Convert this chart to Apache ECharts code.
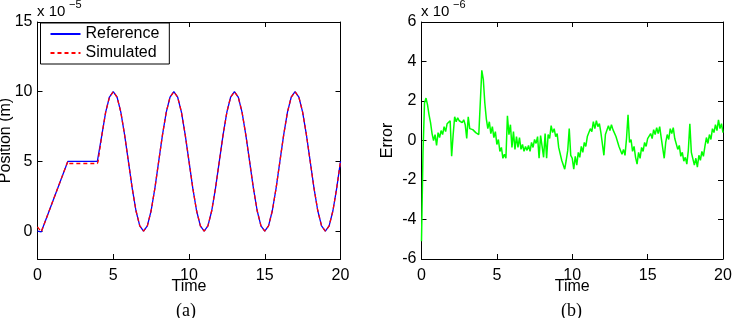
<!DOCTYPE html>
<html>
<head>
    <meta charset="UTF-8">
    <title>Position and error</title>
    <script src="https://cdn.jsdelivr.net/npm/echarts@6/dist/echarts.min.js"></script>
    <style>
        html, body { margin: 0; padding: 0; background: #fff; }
        #chart { width: 738px; height: 318px; }
    </style>
</head>
<body>
<div id="chart"></div>
<script>
    // left panel (a): position, in units of 1e-5 m
    var posTime = [0, 0.25, 2, 2.1, 3.95,
        4, 4.25, 4.5, 4.75, 5, 5.25, 5.5, 5.75, 6, 6.25, 6.5, 6.75, 7, 7.25, 7.5, 7.75,
        8, 8.25, 8.5, 8.75, 9, 9.25, 9.5, 9.75, 10, 10.25, 10.5, 10.75, 11, 11.25, 11.5, 11.75,
        12, 12.25, 12.5, 12.75, 13, 13.25, 13.5, 13.75, 14, 14.25, 14.5, 14.75, 15, 15.25, 15.5, 15.75,
        16, 16.25, 16.5, 16.75, 17, 17.25, 17.5, 17.75, 18, 18.25, 18.5, 18.75, 19, 19.25, 19.5, 19.75,
        20];
    var refPos = [0, -0.05, 5, 5, 5,
        5, 6.91, 8.54, 9.62, 10, 9.62, 8.54, 6.91, 5, 3.09, 1.46, 0.38, 0, 0.38, 1.46, 3.09,
        5, 6.91, 8.54, 9.62, 10, 9.62, 8.54, 6.91, 5, 3.09, 1.46, 0.38, 0, 0.38, 1.46, 3.09,
        5, 6.91, 8.54, 9.62, 10, 9.62, 8.54, 6.91, 5, 3.09, 1.46, 0.38, 0, 0.38, 1.46, 3.09,
        5, 6.91, 8.54, 9.62, 10, 9.62, 8.54, 6.91, 5, 3.09, 1.46, 0.38, 0, 0.38, 1.46, 3.09,
        5];
    var simPos = [0.3, -0.05, 5, 4.85, 4.85,
        5, 6.91, 8.54, 9.62, 10, 9.62, 8.54, 6.91, 5, 3.09, 1.46, 0.38, 0, 0.38, 1.46, 3.09,
        5, 6.91, 8.54, 9.62, 10, 9.62, 8.54, 6.91, 5, 3.09, 1.46, 0.38, 0, 0.38, 1.46, 3.09,
        5, 6.91, 8.54, 9.62, 10, 9.62, 8.54, 6.91, 5, 3.09, 1.46, 0.38, 0, 0.38, 1.46, 3.09,
        5, 6.91, 8.54, 9.62, 10, 9.62, 8.54, 6.91, 5, 3.09, 1.46, 0.38, 0, 0.38, 1.46, 3.09,
        5];

    // right panel (b): error, in units of 1e-6, sampled every 0.1 s (one row per second)
    var errStep = 0.1;
    var errVal = [
        -5.1, -0.6, 1.9, 2.15, 1.8, 1.3, 0.9, 0.35, 0.0, 0.3,
        -0.25, 0.4, 0.15, 0.5, 0.3, 0.7, 0.45, 0.85, 0.75, 1.0,
        -0.8, 0.3, 1.2, 0.95, 1.15, 1.0, 1.1, 0.9, 1.05, 0.8,
        0.1, 1.2, 0.6, 0.5, 0.55, 0.45, 0.4, 0.35, 0.3, 0.25,
        3.55, 3.1, 1.9, 1.1, 0.6, 0.95, 0.35, 0.7, 0.15, 0.45,
        -0.2, 0.05, -0.55, -0.35, -0.9, -0.7, -0.9, 1.25, 0.3, 0.8,
        -0.35, 0.45, -0.45, 0.2, -0.35, 0.15, -0.45, -0.2, -0.55, -0.3,
        -0.5, -0.25, -0.55, -0.1, -0.35, 0.05, -0.15, 0.2, -0.9, 0.25,
        -0.3, -0.85, 0.35, -0.9, 0.3, 0.1, 0.75, 0.4, 0.6, 0.2,
        0.35, -0.35, -0.4, -1.0, -0.9, -1.45, -1.0, -0.5, 0.6, -0.75,
        -0.9, -1.45, -0.8, -1.25, -0.6, -0.85, -0.3, -0.6, -0.1, -0.3,
        0.2, 0.1, 0.6, 0.45, 0.95, 0.6, 1.0, 0.7, 0.85, 0.4,
        0.45, -0.75, 0.3, 0.2, 0.75, 0.5, 0.8, 0.55, 0.6, 0.2,
        0.25, -0.3, -0.2, -0.7, -0.45, -0.75, 0.1, 1.3, -0.1, 0.05,
        -0.55, -0.3, -0.85, -1.2, -0.6, -0.9, -0.35, -0.55, -0.1, -0.3,
        0.1, 0.0, 0.35, 0.1, 0.55, 0.3, 0.65, 0.35, 0.7, 0.15,
        0.1, -0.9, -0.1, 0.3, 0.05, 0.6, 0.35, 0.65, 0.1, 0.15,
        -0.45, -0.25, -0.8, -0.6, -1.05, -0.85, -1.2, -0.5, 0.85, -0.6,
        -0.65, -1.25, -0.9, -1.35, -0.75, -1.0, -0.55, -0.8, -0.3, 0.15,
        -0.15, 0.3, 0.05, 0.6, 0.4, 0.8, 0.5, 1.05, 0.6, 0.85,
        0.4];

    var refData = posTime.map(function (t, i) { return [t, refPos[i]]; });
    var simData = posTime.map(function (t, i) { return [t, simPos[i]]; });
    var errData = errVal.map(function (v, i) { return [+(i * errStep).toFixed(2), v]; });

    var font = 'Liberation Sans, Arial, sans-serif';
    var black = '#000';

    function boxAxis(grid, pos, opts) {
        var a = {
            type: 'value',
            gridIndex: grid,
            position: pos,
            axisLine: { show: true, onZero: false, lineStyle: { color: black, width: 1 } },
            axisTick: { show: true, inside: true, length: 5, lineStyle: { color: black } },
            splitLine: { show: false },
            axisLabel: { show: false },
            nameMoveOverlap: false
        };
        for (var k in opts) a[k] = opts[k];
        return a;
    }

    var labelStyle = { show: true, color: black, fontSize: 16, fontFamily: font };
    var nameStyle = { color: black, fontSize: 16, fontFamily: font };

    var chart = echarts.init(document.getElementById('chart'), null, { renderer: 'canvas' });
    chart.setOption({
        animation: false,
        backgroundColor: '#fff',
        grid: [
            { left: 37.5, top: 22, width: 303, height: 237, containLabel: false, outerBoundsMode: 'none' },
            { left: 421.5, top: 22, width: 301.5, height: 237, containLabel: false, outerBoundsMode: 'none' }
        ],
        xAxis: [
            boxAxis(0, 'bottom', { min: 0, max: 20, interval: 5,
                axisLabel: Object.assign({ margin: 9 }, labelStyle),
                name: 'Time', nameLocation: 'middle', nameGap: 20, nameTextStyle: nameStyle }),
            boxAxis(0, 'top', { min: 0, max: 20, interval: 5 }),
            boxAxis(1, 'bottom', { min: 0, max: 20, interval: 5,
                axisLabel: Object.assign({ margin: 9 }, labelStyle),
                name: 'Time', nameLocation: 'middle', nameGap: 20, nameTextStyle: nameStyle }),
            boxAxis(1, 'top', { min: 0, max: 20, interval: 5 })
        ],
        yAxis: [
            boxAxis(0, 'left', { min: -2, max: 15, minInterval: 5, maxInterval: 5,
                axisLabel: Object.assign({ margin: 5, showMinLabel: false }, labelStyle),
                name: 'Position (m)', nameLocation: 'middle', nameGap: 24, nameTextStyle: nameStyle }),
            boxAxis(0, 'right', { min: -2, max: 15, minInterval: 5, maxInterval: 5 }),
            boxAxis(1, 'left', { min: -6, max: 6, interval: 2,
                axisLabel: Object.assign({ margin: 5 }, labelStyle),
                name: 'Error', nameLocation: 'middle', nameGap: 26, nameTextStyle: nameStyle }),
            boxAxis(1, 'right', { min: -6, max: 6, interval: 2 })
        ],
        legend: {
            left: 40.5, top: 23, orient: 'vertical',
            backgroundColor: '#fff', borderColor: black, borderWidth: 1,
            padding: [3, 10, 3, 9], itemGap: 3, itemWidth: 30, itemHeight: 14,
            itemStyle: { color: 'rgba(0,0,0,0)', borderWidth: 0, opacity: 0 },
            textStyle: { color: black, fontSize: 16, fontFamily: font },
            data: ['Reference', 'Simulated']
        },
        graphic: [
            { type: 'text', left: 37, top: 4, style: { text: 'x 10', font: '15px ' + font, fill: black } },
            { type: 'text', left: 69, top: -1, style: { text: '\u22125', font: '11px ' + font, fill: black } },
            { type: 'text', left: 421, top: 4, style: { text: 'x 10', font: '15px ' + font, fill: black } },
            { type: 'text', left: 453, top: -1, style: { text: '\u22126', font: '11px ' + font, fill: black } },
            { type: 'text', left: 176, top: 302, style: { text: '(a)', font: '18px Liberation Serif, serif', fill: black } },
            { type: 'text', left: 561, top: 302, style: { text: '(b)', font: '18px Liberation Serif, serif', fill: black } }
        ],
        series: [
            { name: 'Reference', type: 'line', xAxisIndex: 0, yAxisIndex: 0, data: refData,
              showSymbol: false, symbol: 'none', lineStyle: { color: '#0000ff', width: 1.3 }, itemStyle: { color: '#0000ff' } },
            { name: 'Simulated', type: 'line', xAxisIndex: 0, yAxisIndex: 0, data: simData,
              showSymbol: false, symbol: 'none', lineStyle: { color: '#ff0000', width: 1.3, type: [4, 3] }, itemStyle: { color: '#ff0000' } },
            { name: 'Error', type: 'line', xAxisIndex: 2, yAxisIndex: 2, data: errData,
              showSymbol: false, symbol: 'none', lineStyle: { color: '#00ff00', width: 1.5 }, itemStyle: { color: '#00ff00' } }
        ]
    });
</script>
</body>
</html>
